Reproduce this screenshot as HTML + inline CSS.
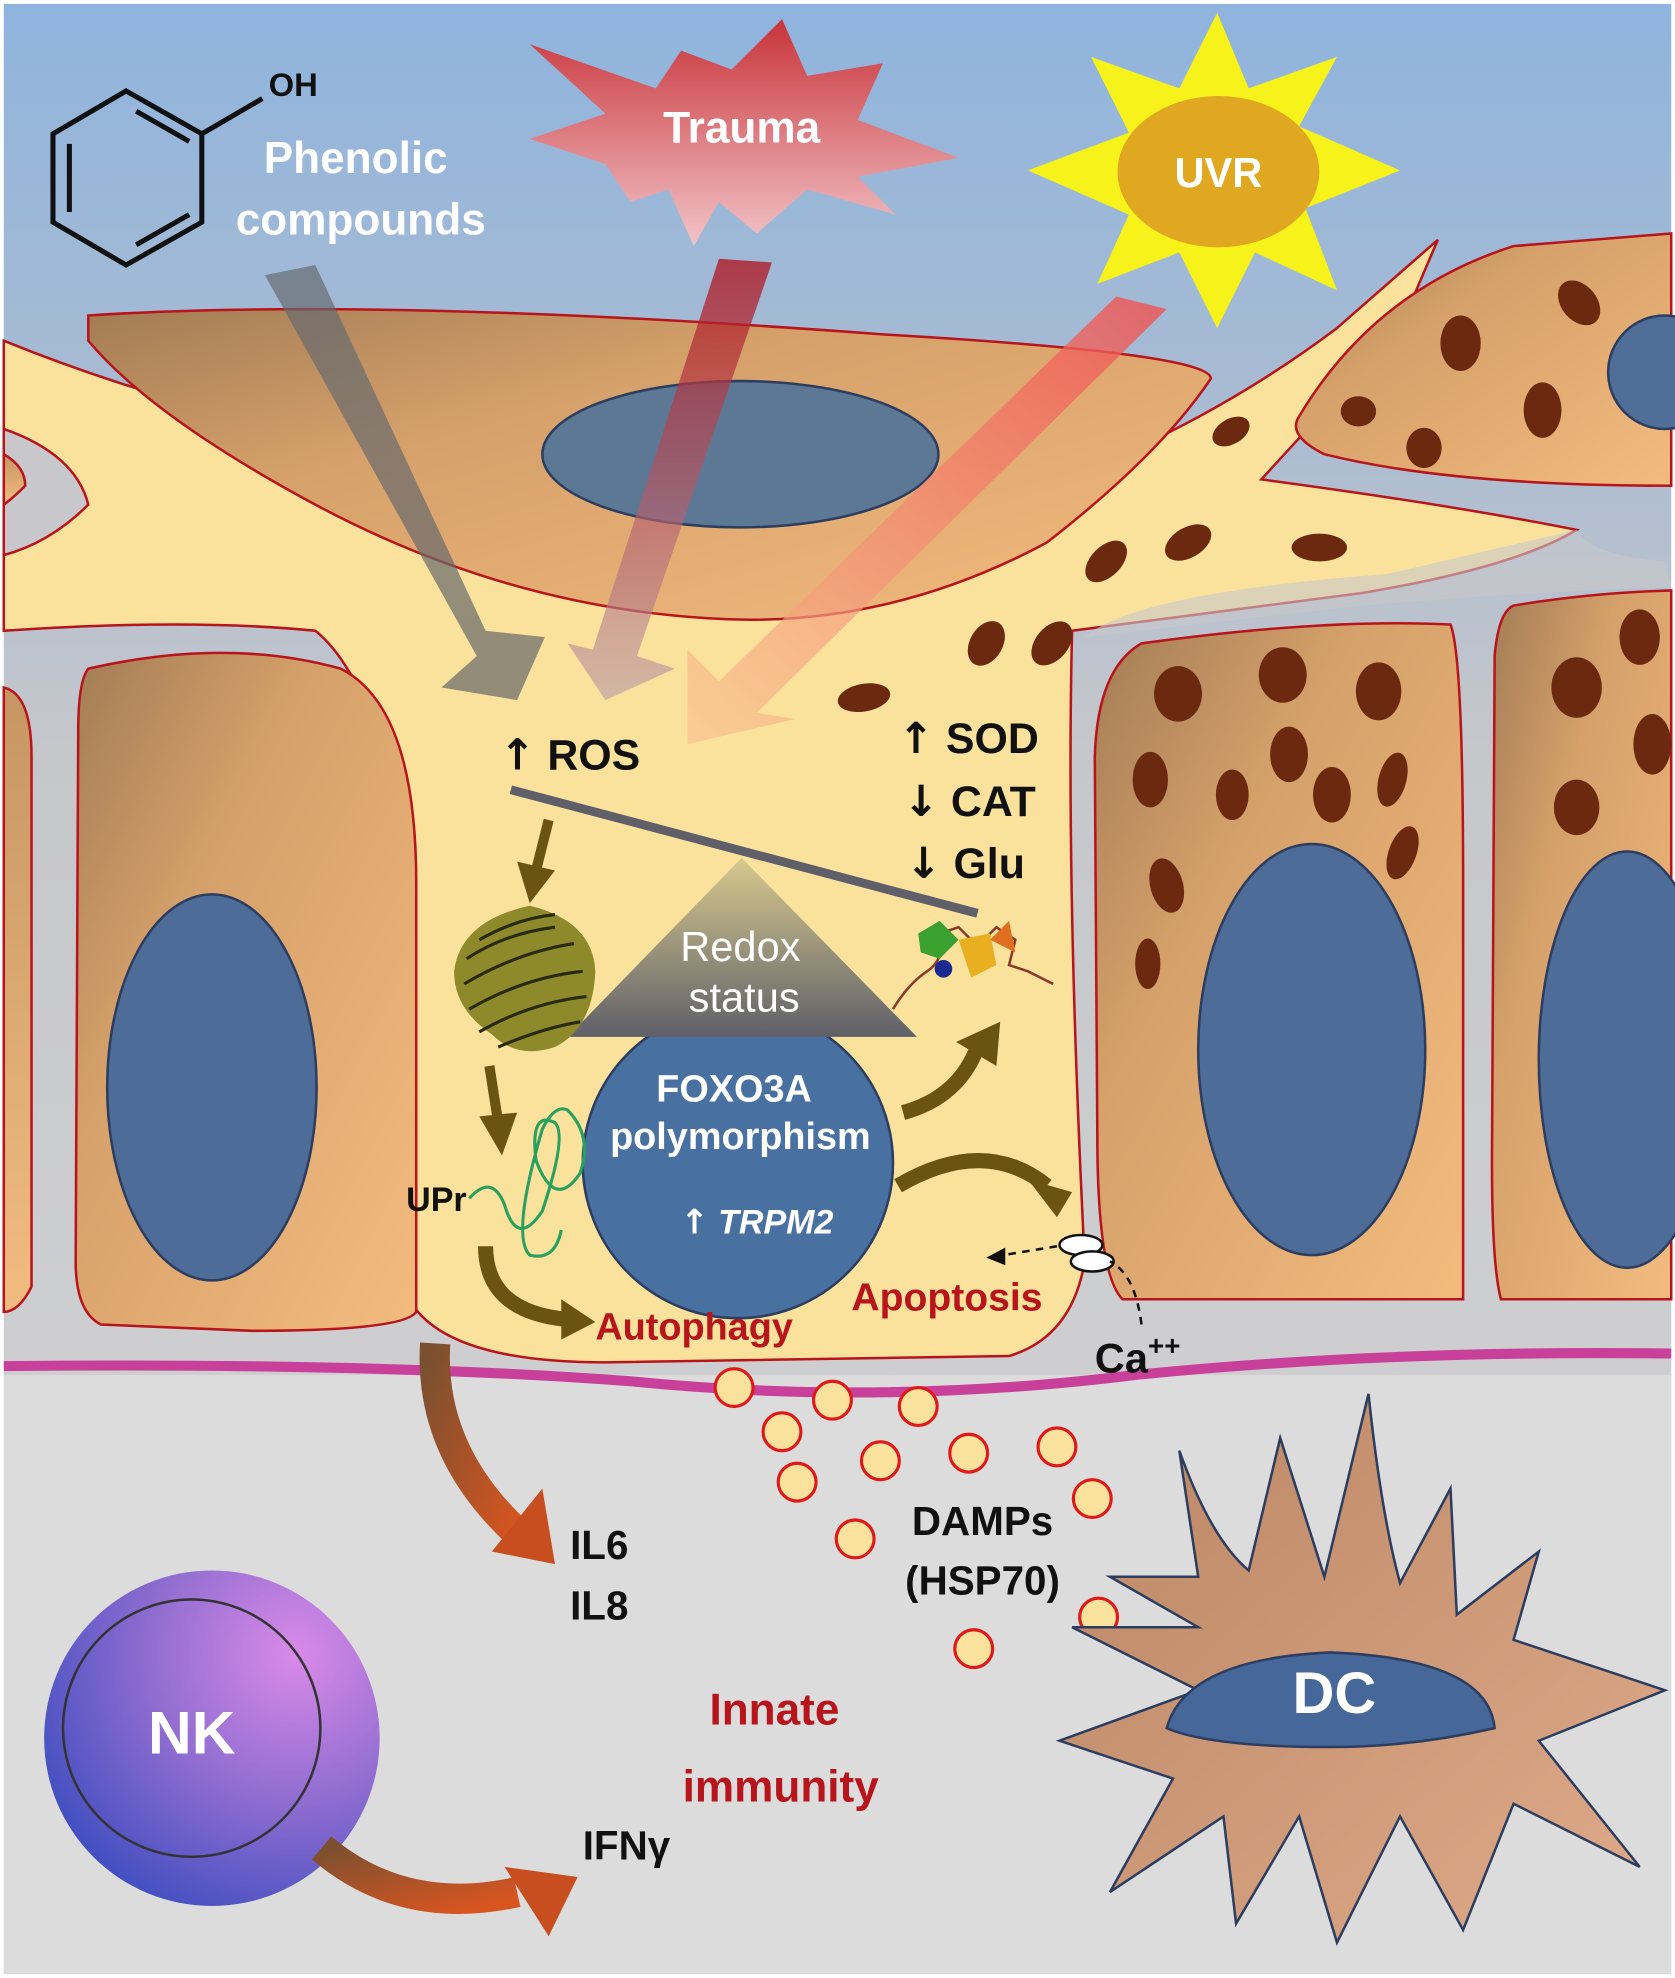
<!DOCTYPE html>
<html><head><meta charset="utf-8"><style>
html,body{margin:0;padding:0;background:#fff}
svg{display:block}
text{font-family:"Liberation Sans",sans-serif;font-weight:bold}
.ar{font-family:"DejaVu Sans",sans-serif;font-weight:bold}
</style></head><body>
<svg width="1675" height="1978" viewBox="0 0 1328 1568" xmlns="http://www.w3.org/2000/svg">
<defs>
<linearGradient id="sky" x1="0" y1="0" x2="0" y2="1">
<stop offset="0" stop-color="#8fb4de"/><stop offset="0.2" stop-color="#a8bbd2"/><stop offset="0.38" stop-color="#c6c7cb"/><stop offset="1" stop-color="#d6d6d6"/></linearGradient>
<linearGradient id="tan" x1="0" y1="0" x2="1" y2="1">
<stop offset="0" stop-color="#a27c55"/><stop offset="0.35" stop-color="#d5a06a"/><stop offset="1" stop-color="#f3bb7e"/></linearGradient>
<linearGradient id="tanv" x1="0" y1="0" x2="0" y2="1">
<stop offset="0" stop-color="#c69563"/><stop offset="1" stop-color="#f2bc80"/></linearGradient>
<radialGradient id="nk" cx="0.75" cy="0.25" r="0.9">
<stop offset="0" stop-color="#d98ae8"/><stop offset="0.5" stop-color="#8e6cd0"/><stop offset="1" stop-color="#3a4cbf"/></radialGradient>
<linearGradient id="dc" x1="0" y1="0" x2="1" y2="1">
<stop offset="0" stop-color="#b98563"/><stop offset="1" stop-color="#e0ab8a"/></linearGradient>
<linearGradient id="tri" x1="0" y1="0" x2="0" y2="1">
<stop offset="0" stop-color="#d8c98e"/><stop offset="1" stop-color="#5f6068"/></linearGradient>
<linearGradient id="trauma" x1="0" y1="0" x2="0" y2="1">
<stop offset="0" stop-color="#c8343a"/><stop offset="1" stop-color="#f2c4c8"/></linearGradient>
<linearGradient id="a1" x1="0" y1="0" x2="0" y2="1">
<stop offset="0" stop-color="#666a70" stop-opacity="0.85"/><stop offset="1" stop-color="#6a6a6a" stop-opacity="0.9"/></linearGradient>
<linearGradient id="a2" x1="0" y1="0" x2="0" y2="1">
<stop offset="0" stop-color="#b0101a"/><stop offset="1" stop-color="#b89aa8" stop-opacity="0.8"/></linearGradient>
<linearGradient id="a3" x1="1" y1="0" x2="0" y2="1">
<stop offset="0" stop-color="#f05050"/><stop offset="1" stop-color="#f8c090" stop-opacity="0.8"/></linearGradient>
<linearGradient id="il" x1="0" y1="0" x2="1" y2="1">
<stop offset="0" stop-color="#7a5030"/><stop offset="1" stop-color="#d85520"/></linearGradient>
</defs>
<rect width="1328" height="1568" fill="#fff"/>
<rect x="3" y="3" width="1322" height="1562" fill="url(#sky)"/>
<rect x="3" y="1090" width="1322" height="475" fill="#dcdcdc"/>

<path d="M3 270 Q150 330 330 360 L700 420 Q900 380 1060 260 L1140 190 L1110 260 L1000 380 Q1150 400 1250 420 Q1200 450 1080 470 L850 500 Q845 700 860 1000 Q850 1060 800 1075 L480 1080 Q340 1080 320 1020 L330 700 Q300 540 250 500 Q150 490 3 500 Z" fill="#fbe29c" stroke="#b8141c" stroke-width="2"/>
<path d="M3 340 Q60 360 70 400 Q40 430 3 440 Z" fill="#c8c8cc" stroke="#b8141c" stroke-width="2"/>
<path d="M3 360 Q20 370 20 385 Q10 395 3 400Z" fill="url(#tanv)" stroke="#b8141c" stroke-width="2"/>
<path d="M1250 420 Q1260 440 1320 445 L1325 465 Q1200 470 1080 480 L860 505 Q900 470 1100 455 Z" fill="#c8c8cc" opacity="0.6"/>

<path d="M70 250 Q300 235 700 265 Q960 280 960 300 Q920 360 830 430 Q700 500 560 490 Q400 480 250 400 Q120 330 70 270 Z" fill="url(#tan)" stroke="#b8141c" stroke-width="2"/>
<ellipse cx="587" cy="360" rx="157" ry="58" fill="#5d7895" stroke="#2d3d60" stroke-width="2"/>
<path d="M1030 330 Q1090 230 1200 195 L1325 185 L1325 385 Q1150 385 1050 360 Q1020 345 1030 330Z" fill="url(#tan)" stroke="#b8141c" stroke-width="2"/>
<ellipse cx="1320" cy="295" rx="45" ry="45" fill="#4f6f98" stroke="#2d3d60" stroke-width="2"/>
<g fill="#6b2a10">
<ellipse cx="1158" cy="272" rx="16" ry="22"/><ellipse cx="1252" cy="240" rx="14" ry="20" transform="rotate(-40 1252 240)"/><ellipse cx="1223" cy="325" rx="15" ry="22"/><ellipse cx="1077" cy="326" rx="14" ry="12"/><ellipse cx="1129" cy="355" rx="14" ry="16"/>
<ellipse cx="976" cy="342" rx="16" ry="10" transform="rotate(-30 976 342)"/><ellipse cx="942" cy="430" rx="20" ry="12" transform="rotate(-30 942 430)"/><ellipse cx="877" cy="445" rx="20" ry="12" transform="rotate(-45 877 445)"/><ellipse cx="1046" cy="434" rx="22" ry="11"/><ellipse cx="782" cy="510" rx="13" ry="19" transform="rotate(30 782 510)"/><ellipse cx="834" cy="510" rx="13" ry="20" transform="rotate(40 834 510)"/><ellipse cx="685" cy="553" rx="21" ry="11" transform="rotate(-10 685 553)"/>
</g>

<path d="M3 545 Q25 550 25 600 L25 1020 Q15 1040 3 1040Z" fill="url(#tanv)" stroke="#b8141c" stroke-width="2"/>
<path d="M70 530 Q180 505 270 530 Q330 560 330 700 L330 1040 Q320 1055 200 1055 L80 1050 Q60 1040 60 1000 L62 580 Q62 540 70 530Z" fill="url(#tan)" stroke="#b8141c" stroke-width="2"/>
<ellipse cx="168" cy="862" rx="83" ry="153" fill="#4d6d98" stroke="#2d3d60" stroke-width="2"/>
<path d="M905 510 Q1050 490 1150 495 Q1160 520 1160 700 L1160 1030 L890 1030 Q870 1010 870 900 L868 600 Q870 530 905 510Z" fill="url(#tan)" stroke="#b8141c" stroke-width="2"/>
<ellipse cx="1040" cy="832" rx="90" ry="163" fill="#4d6d98" stroke="#2d3d60" stroke-width="2"/>
<path d="M1200 480 Q1260 470 1325 468 L1325 1030 L1190 1030 Q1182 1000 1183 900 L1185 520 Q1188 485 1200 480Z" fill="url(#tan)" stroke="#b8141c" stroke-width="2"/>
<ellipse cx="1290" cy="840" rx="70" ry="165" fill="#4d6d98" stroke="#2d3d60" stroke-width="2"/>
<g fill="#6b2a10">
<ellipse cx="934" cy="550" rx="19" ry="22"/><ellipse cx="1017" cy="535" rx="19" ry="22"/><ellipse cx="1093" cy="548" rx="18" ry="23"/><ellipse cx="912" cy="618" rx="14" ry="22"/><ellipse cx="977" cy="630" rx="13" ry="20"/><ellipse cx="1022" cy="598" rx="15" ry="22"/><ellipse cx="1056" cy="630" rx="15" ry="22"/><ellipse cx="1104" cy="618" rx="11" ry="22" transform="rotate(15 1104 618)"/><ellipse cx="925" cy="702" rx="13" ry="22" transform="rotate(-15 925 702)"/><ellipse cx="1112" cy="676" rx="11" ry="22" transform="rotate(20 1112 676)"/><ellipse cx="910" cy="764" rx="10" ry="20"/>
<ellipse cx="1250" cy="545" rx="20" ry="24"/><ellipse cx="1300" cy="505" rx="16" ry="22"/><ellipse cx="1310" cy="590" rx="15" ry="24"/><ellipse cx="1250" cy="640" rx="18" ry="22"/>
</g>

<path d="M3 1083 Q300 1080 500 1095 Q700 1115 900 1090 Q1100 1070 1325 1073" fill="none" stroke="#c8409a" stroke-width="8"/>

<polygon points="965,10 990,70 1060,45 1030,100 1110,135 1035,165 1060,230 995,200 965,260 935,200 870,225 895,170 815,135 895,105 865,45 935,70" fill="#f7f31a"/>
<ellipse cx="966" cy="136" rx="80" ry="60" fill="#e0a820"/>
<text x="966" y="148" font-size="33" fill="#fff" text-anchor="middle">UVR</text>
<polygon points="420,35 520,70 540,40 580,55 620,15 640,60 700,50 680,95 760,125 680,140 710,170 640,150 600,185 570,160 550,195 530,150 500,160 480,130 420,110 480,90" fill="url(#trauma)"/>
<text x="588" y="113" font-size="35" fill="#fff" text-anchor="middle">Trauma</text>
<g fill="none" stroke="#111" stroke-width="4">
<polygon points="100,72 160,106 160,176 100,210 42,176 42,106"/>
<line x1="55" y1="114" x2="55" y2="168"/><line x1="108" y1="88" x2="150" y2="112"/><line x1="108" y1="194" x2="150" y2="170"/>
<line x1="160" y1="106" x2="208" y2="78"/>
</g>
<text x="213" y="76" font-size="26" fill="#111">OH</text>
<text x="282" y="137" font-size="35" fill="#fff" text-anchor="middle">Phenolic</text>
<text x="286" y="186" font-size="35" fill="#fff" text-anchor="middle">compounds</text>

<polygon points="210,218 250,210 385,500 432,505 410,555 350,545 378,520" fill="url(#a1)" opacity="0.8"/>
<polygon points="570,205 612,208 505,520 535,530 480,555 450,510 470,515" fill="url(#a2)" opacity="0.75"/>
<polygon points="885,235 925,245 600,565 630,570 545,590 545,515 570,540" fill="url(#a3)" opacity="0.8"/>

<line x1="405" y1="626" x2="775" y2="724" stroke="#5f5f6a" stroke-width="7"/>
<circle cx="585" cy="922" r="123" fill="#4870a0" stroke="#2d3d60" stroke-width="2"/>
<polygon points="588,680 727,822 450,822" fill="url(#tri)"/>
<text x="587" y="762" font-size="33" fill="#fff" text-anchor="middle" style="font-weight:normal">Redox</text>
<text x="590" y="802" font-size="33" fill="#fff" text-anchor="middle" style="font-weight:normal">status</text>
<text x="582" y="873" font-size="30" fill="#fff" text-anchor="middle">FOXO3A</text>
<text x="587" y="911" font-size="30" fill="#fff" text-anchor="middle">polymorphism</text>
<text x="600" y="978" font-size="27" fill="#fff" text-anchor="middle" font-style="italic"><tspan class="ar">↑</tspan> TRPM2</text>

<text x="396" y="610" font-size="34" fill="#111"><tspan class="ar">↑</tspan> ROS</text>
<text x="712" y="597" font-size="34" fill="#111"><tspan class="ar">↑</tspan> SOD</text>
<text x="716" y="647" font-size="34" fill="#111"><tspan class="ar">↓</tspan> CAT</text>
<text x="718" y="696" font-size="34" fill="#111"><tspan class="ar">↓</tspan> Glu</text>

<g>
<path d="M360 770 Q365 730 420 718 Q470 730 472 770 Q470 815 440 830 Q410 840 390 820 Q360 800 360 770Z" fill="#8e8a2c"/>
<g stroke="#2a2a10" stroke-width="2.5" fill="none">
<path d="M370 760 Q400 740 440 735"/><path d="M368 780 Q410 755 455 748"/><path d="M372 800 Q415 775 462 770"/><path d="M380 818 Q420 795 465 790"/><path d="M395 830 Q430 815 460 810"/><path d="M380 745 Q410 728 440 725"/>
</g></g>
<g>
<path d="M708 800 Q720 780 735 770 Q750 760 745 740 L760 735 L775 750 L790 735 L805 745 L800 765 L815 770 L835 780" fill="none" stroke="#8a3a2a" stroke-width="2"/>
<path d="M728 740 L745 730 L760 745 L745 760 L730 755Z" fill="#3aa030"/><path d="M760 745 L785 740 L790 765 L770 775Z" fill="#e8b020"/><circle cx="748" cy="768" r="7" fill="#1a2a90"/><path d="M785 745 L800 730 L805 755 Z" fill="#e07020"/>
</g>
<text x="322" y="960" font-size="27" fill="#111">UPr</text>
<path d="M372 950 Q390 930 400 955 Q410 990 430 960 Q450 900 440 890 Q420 880 425 920 Q440 960 460 930 Q470 900 450 880 Q440 875 430 895 Q405 980 420 995 Q440 1000 445 975" fill="none" stroke="#2aa060" stroke-width="2.5"/>

<g fill="#6b5312" stroke="#6b5312">
<line x1="435" y1="650" x2="425" y2="690" stroke-width="8"/><polygon points="410,683 440,690 420,716" stroke="none"/>
<line x1="388" y1="845" x2="395" y2="890" stroke-width="8"/><polygon points="380,885 410,882 398,916" stroke="none"/>
</g>
<path d="M385 988 Q385 1040 450 1046" fill="none" stroke="#6b5312" stroke-width="12"/><polygon points="445,1030 472,1048 445,1062" fill="#6b5312"/>
<path d="M716 882 Q760 870 775 830" fill="none" stroke="#6b5312" stroke-width="12"/><polygon points="758,826 793,810 790,845" fill="#6b5312"/>
<path d="M712 940 Q780 900 830 940" fill="none" stroke="#6b5312" stroke-width="12"/><polygon points="815,935 850,945 838,965" fill="#6b5312"/>

<text x="472" y="1062" font-size="30" fill="#b8141c">Autophagy</text>
<text x="675" y="1039" font-size="31" fill="#b8141c">Apoptosis</text>
<ellipse cx="857" cy="987" rx="17" ry="8" fill="#fff" stroke="#111" stroke-width="2"/>
<ellipse cx="866" cy="1000" rx="17" ry="8" fill="#fff" stroke="#111" stroke-width="2"/>
<path d="M905 1050 Q900 1010 880 1000" fill="none" stroke="#111" stroke-width="2" stroke-dasharray="6 5"/>
<path d="M838 988 L795 995" stroke="#111" stroke-width="2" stroke-dasharray="6 5"/><polygon points="782,997 797,989 797,1003" fill="#111"/>
<text x="868" y="1088" font-size="33" fill="#111">Ca<tspan font-size="22" dy="-14">++</tspan></text>

<g fill="#fbe29c" stroke="#e01818" stroke-width="2.5">
<circle cx="582" cy="1100" r="15"/><circle cx="660" cy="1110" r="15"/><circle cx="728" cy="1115" r="15"/><circle cx="620" cy="1135" r="15"/><circle cx="698" cy="1158" r="15"/><circle cx="768" cy="1152" r="15"/><circle cx="838" cy="1147" r="15"/><circle cx="632" cy="1175" r="15"/><circle cx="678" cy="1220" r="15"/><circle cx="866" cy="1188" r="15"/><circle cx="871" cy="1282" r="15"/><circle cx="772" cy="1307" r="15"/>
</g>
<text x="779" y="1217" font-size="32" fill="#111" text-anchor="middle">DAMPs</text>
<text x="779" y="1264" font-size="32" fill="#111" text-anchor="middle">(HSP70)</text>

<path d="M345 1065 Q340 1150 410 1215" fill="none" stroke="url(#il)" stroke-width="24"/>
<polygon points="390,1230 440,1240 430,1180" fill="#c84e20"/>
<text x="452" y="1236" font-size="32" fill="#111">IL6</text>
<text x="452" y="1284" font-size="32" fill="#111">IL8</text>

<text x="614" y="1367" font-size="35" fill="#b8141c" text-anchor="middle">Innate</text>
<text x="619" y="1428" font-size="35" fill="#b8141c" text-anchor="middle">immunity</text>

<circle cx="168" cy="1378" r="133" fill="url(#nk)"/>
<circle cx="152" cy="1370" r="102" fill="none" stroke="#333" stroke-width="2"/>
<text x="152" y="1390" font-size="48" fill="#fff" text-anchor="middle">NK</text>
<path d="M255 1465 Q320 1520 410 1500" fill="none" stroke="url(#il)" stroke-width="24"/>
<polygon points="400,1480 458,1488 435,1535" fill="#c84e20"/>
<text x="462" y="1474" font-size="32" fill="#111">IFNγ</text>

<path d="M935 1150 Q960 1220 990 1245 L1015 1140 L1050 1250 L1085 1105 Q1095 1200 1110 1255 L1150 1180 L1155 1280 L1220 1230 L1200 1300 L1320 1340 L1220 1380 L1300 1480 L1200 1430 L1160 1530 L1110 1440 L1060 1540 L1030 1440 L980 1525 L970 1440 L880 1500 L930 1410 L840 1380 L950 1340 L850 1290 L950 1290 L880 1250 L950 1250 Z" fill="url(#dc)" stroke="#2d3d60" stroke-width="2"/>
<path d="M925 1370 Q940 1315 1055 1310 Q1180 1315 1185 1370 Q1120 1385 1055 1385 Q960 1385 925 1370Z" fill="#45679a" stroke="#2d3d60" stroke-width="2"/>
<text x="1058" y="1358" font-size="46" fill="#fff" text-anchor="middle">DC</text>
</svg>
</body></html>
